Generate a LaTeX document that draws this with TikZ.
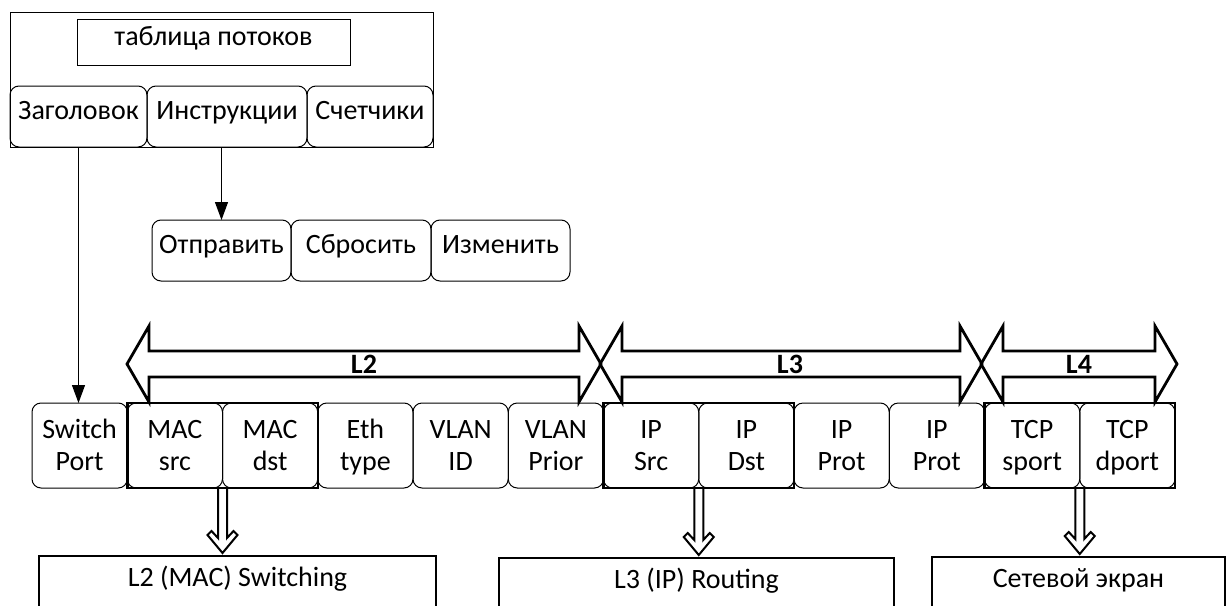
\documentclass[tikz,border=0pt]{standalone}
\usepackage{fontspec}
\setmainfont{Carlito}
\usetikzlibrary{arrows.meta,positioning,calc}

\begin{document}
\begin{tikzpicture}[x=1pt, y=-1pt,
      every node/.style={font=\fontsize{28}{32}\selectfont},
      box/.style={draw, line width=1pt, inner sep=0pt, outer sep=0pt,
                  text height=0.75em, text depth=0.15em},
      rbox/.style={box, rounded corners=9pt, minimum height=61pt},
      fld/.style={box, align=center, rounded corners=9pt, minimum width=95.25pt,
                  minimum height=85pt, text height=52pt, text depth=0.15em},
      grp/.style={line width=2.5pt},
      band/.style={line width=2.8pt, line join=miter},
      lbl/.style={font=\fontsize{28}{32}\selectfont\bfseries},
      arr/.style={-{Triangle[length=18pt,width=13pt]}, line width=1.2pt},
      hol/.style={line width=2pt, line join=miter, to path={
        ($(\tikztostart)+(-4.5,0)$) -- ($(\tikztotarget)+(-4.5,-15)$)
        -- ($(\tikztotarget)+(-11,-22)$) -- ($(\tikztotarget)+(-15,-18)$) -- (\tikztotarget)
        -- ($(\tikztotarget)+(15,-18)$) -- ($(\tikztotarget)+(11,-22)$)
        -- ($(\tikztotarget)+(4.5,-15)$) -- ($(\tikztostart)+(4.5,0)$)}}]
    \useasboundingbox (0,0) rectangle (1231,605);
    \clip (0,0) rectangle (1231,605);
    % flow table
    \node[box, minimum width=423pt, minimum height=135pt] (ft) at (221.5,79.5) {};
    \node[box, minimum width=273pt, minimum height=46pt] (ttl) at (213.5,42) {таблица потоков};
    \node[rbox, minimum width=137pt, anchor=south west] (hdr) at (ft.south west) {Заголовок};
    \node[rbox, minimum width=160pt, right=0pt of hdr] (ins) {Инструкции};
    \node[rbox, minimum width=126pt, right=0pt of ins] (cnt) {Счетчики};
    % actions
    \node[rbox, minimum width=139pt, anchor=north west] (snd) at (152,220) {Отправить};
    \node[rbox, minimum width=140pt, right=0pt of snd] (rst) {Сбросить};
    \node[rbox, minimum width=139pt, right=0pt of rst] (mod) {Изменить};
    % header fields
    \node[fld, anchor=north west] (sw) at (32,403) {Switch\\Port};
    \node[fld, right=0pt of sw] (msrc) {MAC\\src};
    \node[fld, right=0pt of msrc] (mdst) {MAC\\dst};
    \node[fld, right=0pt of mdst] (eth) {Eth\\type};
    \node[fld, right=0pt of eth] (vid) {VLAN\\ID};
    \node[fld, right=0pt of vid] (vpr) {VLAN\\Prior};
    \node[fld, right=0pt of vpr] (isrc) {IP\\Src};
    \node[fld, right=0pt of isrc] (idst) {IP\\Dst};
    \node[fld, right=0pt of idst] (ipra) {IP\\Prot};
    \node[fld, right=0pt of ipra] (iprb) {IP\\Prot};
    \node[fld, right=0pt of iprb] (tsp) {TCP\\sport};
    \node[fld, right=0pt of tsp] (tdp) {TCP\\dport};
    \draw[grp] (msrc.north west) rectangle (mdst.south east);
    \draw[grp] (isrc.north west) rectangle (idst.south east);
    \draw[grp] (tsp.north west) rectangle (tdp.south east);
    % layers
    \draw[band] (127,364) -- (149,326) -- (149,351) -- (579,351) -- (579,326) -- (601,364)
      -- (579,402) -- (579,377) -- (149,377) -- (149,402) -- cycle;
    \draw[band] (600,364) -- (622,326) -- (622,351) -- (960,351) -- (960,326) -- (982,364)
      -- (960,402) -- (960,377) -- (622,377) -- (622,402) -- cycle;
    \draw[band] (981,364) -- (1003,326) -- (1003,351) -- (1155,351) -- (1155,326) -- (1177,364)
      -- (1155,402) -- (1155,377) -- (1003,377) -- (1003,402) -- cycle;
    \node[lbl] (ltwo) at (364,364) {L2};
    \node[lbl] (lthree) at (790,364) {L3};
    \node[lbl] (lfour) at (1079,364) {L4};
    % applications
    \node[box, line width=1.2pt, minimum width=397pt, minimum height=54pt, anchor=north west]
      (swi) at (39,556) {L2 (MAC) Switching};
    \node[box, line width=1.2pt, minimum width=395pt, minimum height=54pt, anchor=north west]
      (rtg) at (499,558) {L3 (IP) Routing};
    \node[box, line width=1.2pt, minimum width=293pt, minimum height=54pt, anchor=north west]
      (fw) at (932,557) {Сетевой экран};
    \draw[arr] (hdr.south) -- (hdr.south |- sw.north);
    \draw[arr] (snd.north |- ins.south) -- (snd.north);
    \draw[hol] (msrc.south east) to ([yshift=3pt]msrc.south east |- swi.north);
    \draw[hol] (isrc.south east) to ([yshift=3pt]isrc.south east |- rtg.north);
    \draw[hol] (tsp.south east) to ([yshift=3pt]tsp.south east |- fw.north);
  \end{tikzpicture}
\end{document}
